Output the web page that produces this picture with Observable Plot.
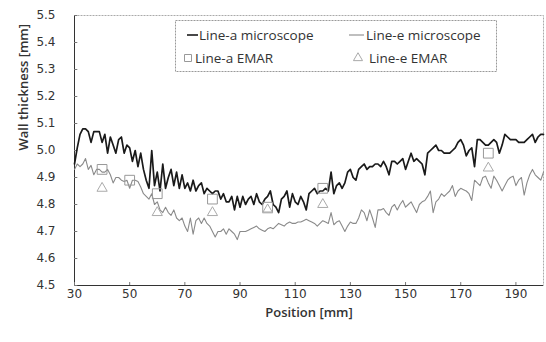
<!DOCTYPE html>
<html><head><meta charset="utf-8">
<script src="https://cdn.jsdelivr.net/npm/d3@7"></script>
<script src="https://cdn.jsdelivr.net/npm/@observablehq/plot@0.6"></script>
<style>
body{margin:0;background:#fff;}
#wrap{position:relative;width:546px;height:342px;}
#legend{position:absolute;left:175px;top:20px;}
</style></head><body><div id="wrap"></div>
<script>
// Sampling positions (mm)
const position = [30,31,32,33,34,35,36,37,38,39,40,41,42,43,44,45,46,47,48,49,50,51,52,53,54,55,56,57,58,59,60,61,62,63,64,65,66,67,68,69,70,71,72,73,74,75,76,77,78,79,80,81,82,83,84,85,86,87,88,89,90,91,92,93,94,95,96,97,98,99,100,101,102,103,104,105,106,107,108,109,110,111,112,113,114,115,116,117,118,119,120,121,122,123,124,125,126,127,128,129,130,131,132,133,134,135,136,137,138,139,140,141,142,143,144,145,146,147,148,149,150,151,152,153,154,155,156,157,158,159,160,161,162,163,164,165,166,167,168,169,170,171,172,173,174,175,176,177,178,179,180,181,182,183,184,185,186,187,188,189,190,191,192,193,194,195,196,197,198,199,200];

// Line-a microscope (mm)
const lineAMicroscope = [4.95,5.01,5.06,5.08,5.08,5.07,5.03,5.07,5.07,5.07,5.03,5.06,4.99,5.05,5.02,4.99,5.04,5.05,4.99,5.02,5.01,4.96,5.00,4.94,4.99,4.93,4.89,4.86,5.00,4.87,4.92,4.85,4.95,4.86,4.90,4.93,4.87,4.92,4.86,4.91,4.86,4.88,4.85,4.89,4.85,4.87,4.88,4.84,4.86,4.85,4.84,4.85,4.85,4.82,4.84,4.81,4.81,4.83,4.78,4.83,4.79,4.83,4.80,4.82,4.83,4.80,4.84,4.81,4.80,4.82,4.83,4.85,4.80,4.79,4.77,4.82,4.83,4.85,4.79,4.84,4.81,4.80,4.83,4.81,4.78,4.84,4.85,4.86,4.84,4.85,4.85,4.86,4.85,4.92,4.84,4.87,4.88,4.86,4.88,4.92,4.93,4.90,4.89,4.93,4.94,4.95,4.93,4.94,4.94,4.95,4.95,4.94,4.96,4.94,4.91,4.96,4.96,4.95,4.96,4.97,4.93,4.96,4.99,4.96,4.97,4.96,4.95,4.91,4.99,5.00,5.01,5.02,5.00,5.00,4.99,4.99,4.99,5.00,5.01,5.03,5.04,5.02,4.98,5.00,5.01,4.94,5.04,5.04,5.03,5.02,5.02,5.03,5.04,5.03,4.99,5.02,5.06,5.05,5.04,5.04,5.04,5.03,5.03,5.03,5.04,5.05,5.06,5.03,5.05,5.06,5.06];

// Line-e microscope (mm)
const lineEMicroscope = [4.93,4.95,4.94,4.95,4.97,4.93,4.945,4.91,4.93,4.93,4.92,4.92,4.93,4.91,4.88,4.90,4.90,4.89,4.885,4.89,4.86,4.89,4.89,4.885,4.865,4.84,4.83,4.82,4.84,4.80,4.81,4.78,4.77,4.79,4.77,4.76,4.78,4.75,4.74,4.75,4.72,4.70,4.75,4.69,4.74,4.75,4.73,4.75,4.73,4.72,4.70,4.68,4.70,4.70,4.71,4.69,4.71,4.70,4.69,4.67,4.70,4.70,4.70,4.705,4.71,4.715,4.72,4.71,4.705,4.70,4.71,4.715,4.71,4.72,4.73,4.725,4.72,4.73,4.735,4.73,4.73,4.735,4.735,4.74,4.745,4.74,4.735,4.73,4.72,4.73,4.74,4.735,4.73,4.77,4.725,4.735,4.74,4.72,4.70,4.72,4.735,4.73,4.73,4.75,4.78,4.77,4.74,4.78,4.75,4.715,4.78,4.78,4.785,4.77,4.76,4.79,4.80,4.78,4.80,4.815,4.79,4.80,4.81,4.79,4.77,4.80,4.81,4.815,4.83,4.85,4.77,4.81,4.82,4.84,4.83,4.84,4.85,4.87,4.83,4.85,4.86,4.855,4.85,4.84,4.815,4.89,4.88,4.87,4.90,4.905,4.88,4.86,4.905,4.89,4.87,4.85,4.87,4.89,4.90,4.905,4.87,4.89,4.90,4.835,4.88,4.91,4.93,4.91,4.90,4.89,4.92];

// EMAR measurements
const emarAPosition = [40, 50, 60, 80, 100, 120, 180];
const emarAValue    = [4.93, 4.89, 4.84, 4.82, 4.79, 4.86, 4.99];
const emarEPosition = [40, 60, 80, 100, 120, 180];
const emarEValue    = [4.86, 4.77, 4.77, 4.78, 4.80, 4.935];

const xTicks = [30, 50, 70, 90, 110, 130, 150, 170, 190];
const yTicks = [4.5, 4.6, 4.7, 4.8, 4.9, 5.0, 5.1, 5.2, 5.3, 5.4, 5.5];
const xLabel = "Position [mm]";
const yLabel = "Wall thickness [mm]";
const legendLabels = ["Line-a microscope", "Line-e microscope", "Line-a EMAR", "Line-e EMAR"];

const rowsA = position.map((x, i) => ({x, y: lineAMicroscope[i]}));
const rowsE = position.map((x, i) => ({x, y: lineEMicroscope[i]}));
const emarA = emarAPosition.map((x, i) => ({x, y: emarAValue[i]}));
const emarE = emarEPosition.map((x, i) => ({x, y: emarEValue[i]}));

const titleFont = {fontFamily: "Open Sans", fontWeight: 600, fontSize: 13, fill: "#333"};

const chart = Plot.plot({
  width: 546, height: 342,
  marginLeft: 74, marginRight: 3, marginTop: 15, marginBottom: 57,
  style: {fontFamily: "DejaVu Sans", fontSize: "12px", color: "#333", background: "#fff"},
  x: {domain: [30, 200], ticks: xTicks, tickSize: 0, tickPadding: 4, label: null},
  y: {domain: [4.5, 5.5], ticks: yTicks, tickSize: 0, tickPadding: 19, tickFormat: d3.format(".1f"), label: null},
  marks: [
    Plot.frame({stroke: "#aaa", strokeDasharray: "2,1"}),
    Plot.ruleX([xTicks[0]], {stroke: "#333"}),
    Plot.ruleY([yTicks[0]], {stroke: "#333"}),
    Plot.ruleY(yTicks, {x1: 30, x2: 31.2, stroke: "#777"}),
    Plot.ruleX(xTicks, {y1: 4.5, y2: 4.511, stroke: "#777"}),
    Plot.line(rowsE, {x: "x", y: "y", stroke: "#8a8a8a", strokeWidth: 1.1}),
    Plot.line(rowsA, {x: "x", y: "y", stroke: "#1a1a1a", strokeWidth: 1.7}),
    Plot.dot(emarA, {x: "x", y: "y", symbol: "square", r: 5.5, stroke: "#999", fill: "none", strokeWidth: 1}),
    Plot.dot(emarE, {x: "x", y: "y", symbol: "triangle", r: 3.8, stroke: "#aaa", fill: "none", strokeWidth: 1}),
    Plot.text([xLabel], {frameAnchor: "bottom", dy: 31, ...titleFont}),
    Plot.text([yLabel], {frameAnchor: "left", dx: -51, rotate: -90, ...titleFont})
  ]
});

const wrap = document.getElementById("wrap");
wrap.appendChild(chart);

// Legend (inside plot area, top)
const lw = 322, lh = 52;
const leg = d3.select(wrap).append("svg").attr("id", "legend").attr("width", lw).attr("height", lh);
leg.append("rect").attr("x", 0.5).attr("y", 0.5).attr("width", lw - 1).attr("height", lh - 1)
  .attr("fill", "#fff").attr("stroke", "#999").attr("stroke-dasharray", "2,1");
const tf = (sel) => sel.attr("font-family", "Open Sans").attr("font-size", 13.5).attr("fill", "#333").attr("dominant-baseline", "central");
leg.append("line").attr("x1", 12).attr("x2", 23).attr("y1", 15).attr("y2", 15).attr("stroke", "#1a1a1a").attr("stroke-width", 1.6);
leg.append("text").attr("x", 24).attr("y", 15).text(legendLabels[0]).call(tf);
leg.append("line").attr("x1", 174).attr("x2", 189).attr("y1", 15).attr("y2", 15).attr("stroke", "#8a8a8a").attr("stroke-width", 1.1);
leg.append("text").attr("x", 191).attr("y", 15).text(legendLabels[1]).call(tf);
leg.append("path").attr("d", d3.symbol(d3.symbolSquare, 49)()).attr("transform", "translate(13,38)").attr("fill", "none").attr("stroke", "#999");
leg.append("text").attr("x", 20).attr("y", 38).text(legendLabels[2]).call(tf);
leg.append("path").attr("d", d3.symbol(d3.symbolTriangle, 36)()).attr("transform", "translate(183,38)").attr("fill", "none").attr("stroke", "#aaa");
leg.append("text").attr("x", 194).attr("y", 38).text(legendLabels[3]).call(tf);
</script>
</body></html>
